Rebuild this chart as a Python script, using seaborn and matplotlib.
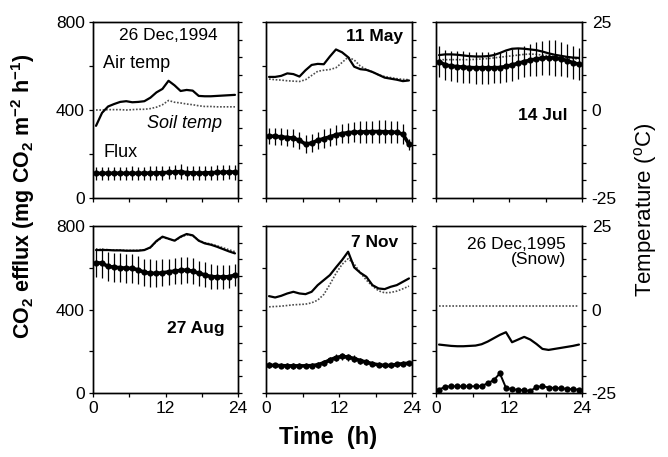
import matplotlib
matplotlib.use("Agg")
import matplotlib.pyplot as plt
import seaborn as sns
import pandas as pd

# ---------------- data ----------------
hours = [0.5, 1.5, 2.5, 3.5, 4.5, 5.5, 6.5, 7.5, 8.5, 9.5, 10.5, 11.5,
         12.5, 13.5, 14.5, 15.5, 16.5, 17.5, 18.5, 19.5, 20.5, 21.5, 22.5, 23.5]

panel_titles = ["26 Dec,1994", "11 May", "14 Jul", "27 Aug", "7 Nov", "26 Dec,1995\n(Snow)"]

# CO2 efflux (mg CO2 m-2 h-1)
flux_dec94 = [112, 112, 113, 112, 113, 112, 113, 112, 113, 113, 114, 115, 116, 118, 120, 115, 114, 113, 114, 115, 116, 117, 118, 118]
flux_may = [282, 280, 278, 275, 272, 262, 245, 250, 262, 270, 278, 287, 293, 297, 299, 300, 301, 302, 302, 301, 300, 298, 290, 245]
flux_jul = [620, 605, 600, 597, 595, 593, 592, 592, 592, 592, 593, 598, 605, 612, 620, 627, 632, 636, 638, 636, 632, 625, 615, 608]
flux_aug = [624, 622, 606, 603, 600, 598, 597, 590, 578, 574, 573, 576, 580, 584, 587, 589, 583, 574, 566, 558, 556, 556, 557, 565]
flux_nov = [133, 132, 131, 130, 130, 130, 130, 131, 135, 145, 158, 170, 175, 172, 165, 155, 148, 140, 135, 132, 132, 137, 140, 143]
flux_dec95 = [16, 30, 32, 32, 32, 32, 32, 33, 47, 62, 94, 25, 18, 15, 13, 10, 28, 33, 26, 24, 22, 20, 18, 16]

# error (+/-) of flux
err_dec94 = [30, 30, 30, 31, 30, 30, 31, 30, 30, 31, 30, 31, 31, 32, 33, 31, 30, 31, 31, 32, 32, 33, 33, 34]
err_may = [38, 38, 38, 38, 40, 40, 42, 40, 40, 42, 42, 44, 44, 46, 46, 48, 50, 50, 52, 52, 52, 50, 45, 25]
err_jul = [70, 70, 70, 70, 72, 72, 72, 72, 72, 70, 70, 70, 72, 72, 72, 74, 76, 78, 80, 80, 78, 76, 74, 72]
err_aug = [70, 72, 70, 70, 70, 70, 68, 68, 66, 66, 64, 64, 64, 64, 64, 62, 62, 60, 60, 58, 56, 56, 56, 54]
err_nov = [14, 14, 13, 13, 13, 12, 12, 12, 13, 14, 15, 16, 18, 17, 16, 14, 13, 12, 12, 12, 12, 12, 12, 12]
err_dec95 = [3, 3, 3, 3, 3, 3, 3, 3, 4, 5, 6, 4, 3, 3, 3, 3, 3, 3, 3, 3, 3, 3, 3, 3]

# Air temperature (deg C)
air_dec94 = [-4.5, -0.8, 1.0, 1.7, 2.3, 2.5, 2.2, 2.3, 2.5, 3.5, 5.0, 6.0, 8.3, 7.0, 5.4, 5.7, 5.5, 4.0, 3.9, 3.9, 4.0, 4.1, 4.2, 4.3]
air_may = [9.4, 9.4, 9.7, 10.4, 10.2, 9.5, 11.3, 12.8, 13.1, 13.0, 15.2, 17.2, 16.4, 15.0, 12.3, 11.6, 11.4, 10.8, 10.0, 9.2, 8.9, 8.6, 8.2, 8.4]
air_jul = [15.6, 15.8, 15.8, 15.7, 15.5, 15.3, 15.2, 15.2, 15.3, 15.6, 16.2, 16.9, 17.4, 17.5, 17.4, 17.2, 17.0, 16.6, 16.1, 15.7, 15.4, 15.1, 14.9, 14.8]
air_aug = [17.8, 17.8, 17.8, 17.7, 17.7, 17.6, 17.6, 17.6, 17.8, 18.6, 20.5, 21.8, 21.2, 20.6, 21.8, 22.6, 22.2, 20.6, 19.8, 19.4, 18.8, 18.1, 17.4, 16.8]
air_nov = [4.0, 3.6, 4.1, 4.8, 5.3, 4.8, 4.6, 5.3, 7.3, 8.8, 10.3, 12.6, 14.8, 17.3, 12.6, 11.0, 9.8, 7.3, 6.3, 6.1, 6.8, 7.3, 8.3, 9.3]
air_dec95 = [-10.5, -10.7, -10.9, -11.0, -11.0, -10.9, -10.8, -10.4, -9.6, -8.6, -7.6, -6.8, -9.8, -9.0, -8.2, -9.0, -10.3, -11.8, -12.1, -11.8, -11.5, -11.2, -10.9, -10.5]

# Soil temperature (deg C)
soil_dec94 = [0.0, 0.0, 0.1, 0.1, 0.1, 0.0, 0.1, 0.2, 0.2, 0.4, 0.8, 1.5, 2.7, 2.2, 2.0, 1.7, 1.5, 1.2, 1.0, 1.0, 0.9, 0.9, 0.9, 0.9]
soil_may = [8.8, 8.6, 8.5, 8.3, 8.2, 8.1, 8.6, 9.8, 11.0, 11.3, 11.5, 12.0, 13.5, 15.0, 14.2, 12.5, 11.5, 10.8, 10.0, 9.5, 9.2, 8.9, 8.7, 8.6]
soil_jul = [14.3, 14.3, 14.3, 14.3, 14.3, 14.3, 14.4, 14.5, 14.6, 14.8, 15.0, 15.2, 15.4, 15.6, 15.8, 15.9, 15.8, 15.6, 15.4, 15.2, 15.0, 14.8, 14.6, 14.5]
soil_aug = [18.0, 18.0, 17.9, 17.8, 17.8, 17.7, 17.7, 17.7, 17.9, 18.5, 20.3, 21.6, 21.1, 20.6, 21.6, 22.4, 22.1, 20.7, 20.0, 19.6, 19.1, 18.5, 17.9, 17.3]
soil_nov = [0.8, 0.9, 1.0, 1.2, 1.4, 1.5, 1.6, 2.0, 2.8, 4.5, 7.5, 10.8, 13.5, 15.2, 13.6, 11.0, 8.8, 7.0, 5.6, 5.0, 5.1, 5.5, 6.2, 7.0]
soil_dec95 = [1.0, 1.0, 1.0, 1.0, 1.0, 1.0, 1.0, 1.0, 1.0, 1.0, 1.0, 1.0, 1.0, 1.0, 1.0, 1.0, 1.0, 1.0, 1.0, 1.0, 1.0, 1.0, 1.0, 1.0]

flux_all = [flux_dec94, flux_may, flux_jul, flux_aug, flux_nov, flux_dec95]
err_all = [err_dec94, err_may, err_jul, err_aug, err_nov, err_dec95]
air_all = [air_dec94, air_may, air_jul, air_aug, air_nov, air_dec95]
soil_all = [soil_dec94, soil_may, soil_jul, soil_aug, soil_nov, soil_dec95]

flux_ticks = [0, 200, 400, 600, 800]
flux_ticklabels = ["0", "", "400", "", "800"]
temp_ticks = [-25, -20, -15, -10, -5, 0, 5, 10, 15, 20, 25]
temp_ticklabels = ["-25", "", "", "", "", "0", "", "", "", "", "25"]
hour_ticks = [0, 6, 12, 18, 24]
hour_ticklabels = ["0", "", "12", "", "24"]

# ---------------- style ----------------
sns.set_style("ticks")
plt.rcParams["font.family"] = ["Liberation Sans", "DejaVu Sans"]
plt.rcParams["mathtext.fontset"] = "custom"
plt.rcParams["mathtext.rm"] = "Liberation Sans"
plt.rcParams["mathtext.bf"] = "Liberation Sans:bold"
plt.rcParams["mathtext.it"] = "Liberation Sans:italic"
plt.rcParams["axes.linewidth"] = 1.0
for key in ["text.color", "axes.labelcolor", "xtick.color", "ytick.color",
            "axes.edgecolor"]:
    plt.rcParams[key] = "black"

W, H = 668, 457
fig = plt.figure(figsize=(W / 100, H / 100), dpi=100)

col_px = [(93, 145), (266, 146), (436, 146)]
row_px = [(22, 198), (226, 393)]

title_pos = [
    (0.52, 0.925, "center", False),
    (0.94, 0.915, "right", True),
    (0.90, 0.47, "right", True),
    (0.91, 0.385, "right", True),
    (0.905, 0.90, "right", True),
    (0.89, 0.845, "right", False),
]

for i in range(6):
    r, c = divmod(i, 3)
    x0, w = col_px[c]
    top, bot = row_px[r]
    ax = fig.add_axes([x0 / W, 1 - bot / H, w / W, (bot - top) / H])
    ax2 = ax.twinx()
    df = pd.DataFrame({"hour": hours, "flux": flux_all[i], "err": err_all[i],
                       "air": air_all[i], "soil": soil_all[i]})

    sns.lineplot(data=df, x="hour", y="soil", ax=ax2, color="0.3", lw=1.2,
                 linestyle=(0, (1, 1)))
    sns.lineplot(data=df, x="hour", y="air", ax=ax2, color="black", lw=1.6)

    ax.errorbar(df["hour"], df["flux"], yerr=df["err"], fmt="none",
                ecolor="black", elinewidth=0.9, capsize=0)
    sns.lineplot(data=df, x="hour", y="flux", ax=ax, color="black",
                 lw=1.4 if i == 5 else 2.6, marker="o",
                 markersize=4.5, markeredgewidth=0)

    ax.set_zorder(ax2.get_zorder() + 1)
    ax.patch.set_visible(False)

    ax.set_xlim(0, 24)
    ax.set_ylim(0, 800)
    ax2.set_ylim(-25, 25)
    ax.set_xlabel("")
    ax.set_ylabel("")
    ax2.set_xlabel("")
    ax2.set_ylabel("")

    ax.set_xticks(hour_ticks)
    ax.set_yticks(flux_ticks)
    ax2.set_yticks(temp_ticks)
    if r == 1:
        ax.set_xticklabels(hour_ticklabels)
    else:
        ax.set_xticklabels([])
    if c == 0:
        ax.set_yticklabels(flux_ticklabels)
    else:
        ax.set_yticklabels([])
    if c == 2:
        ax2.set_yticklabels(temp_ticklabels)
    else:
        ax2.set_yticklabels([])

    ax.tick_params(axis="both", direction="out", length=3, width=0.9,
                   labelsize=12.5, pad=3, right=False, colors="black")
    ax2.tick_params(axis="y", direction="out", length=3, width=0.9,
                    labelsize=12.5, pad=4, colors="black")
    for sp in list(ax.spines.values()) + list(ax2.spines.values()):
        sp.set_linewidth(1.0)
        sp.set_color("black")

    tx, ty, ha, bold = title_pos[i]
    ax.text(tx, ty, panel_titles[i], transform=ax.transAxes, ha=ha, va="center",
            fontsize=12.5, fontweight="bold" if bold else "normal",
            linespacing=1.0, zorder=10, color="black")

    if i == 0:
        ax.text(0.07, 0.767, "Air temp", transform=ax.transAxes, ha="left",
                va="center", fontsize=13, color="black")
        ax.text(0.37, 0.426, "Soil temp", transform=ax.transAxes, ha="left",
                va="center", fontsize=13, style="italic", color="black")
        ax.text(0.07, 0.256, "Flux", transform=ax.transAxes, ha="left",
                va="center", fontsize=13, color="black")

fig.text(0.034, 0.57, r"CO$_\mathbf{2}$ efflux (mg CO$_\mathbf{2}$ m$^\mathbf{-2}$ h$^\mathbf{-1}$)",
         rotation=90, ha="center", va="center", fontsize=15.5, fontweight="bold")
fig.text(0.966, 0.54, r"Temperature ($^\mathrm{o}$C)", rotation=90,
         ha="center", va="center", fontsize=16)
fig.text(0.491, 0.042, "Time  (h)", ha="center", va="center",
         fontsize=17, fontweight="bold")

fig.savefig("out.png", dpi=100)
